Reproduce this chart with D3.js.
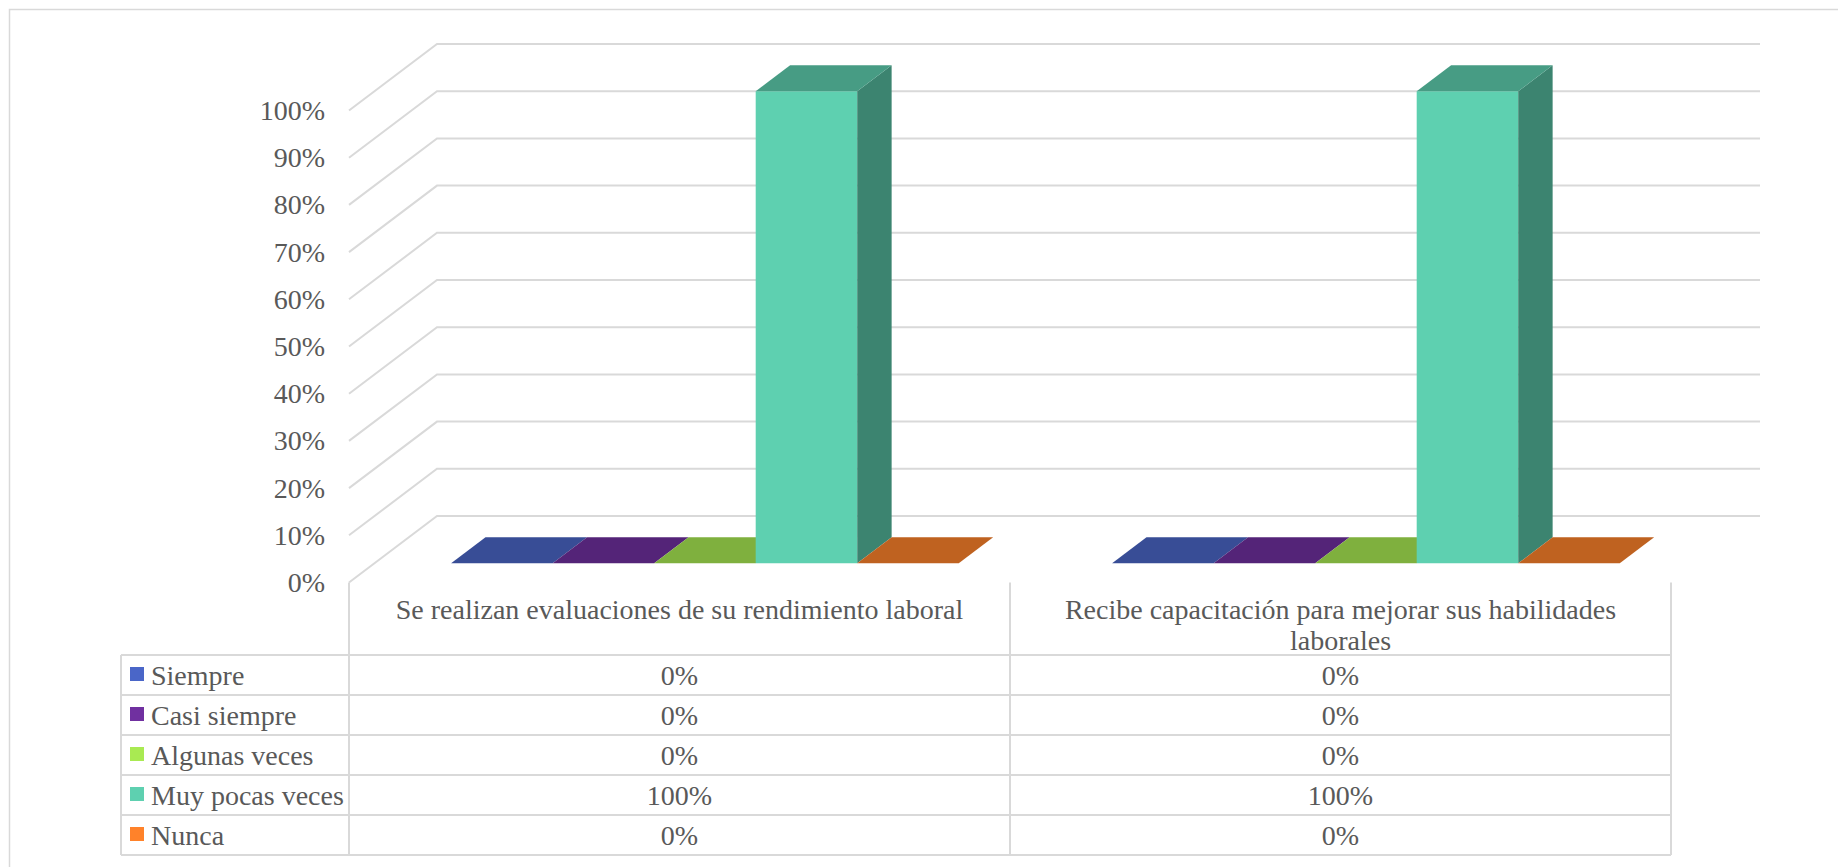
<!DOCTYPE html>
<html>
<head>
<meta charset="utf-8">
<script src="https://cdn.jsdelivr.net/npm/d3@7"></script>
<style>
  html, body { margin: 0; padding: 0; background: #fff; }
  svg { display: block; }
  text { font-family: "Liberation Serif", "Times New Roman", serif; fill: #595959; }
</style>
</head>
<body>
<script>
// Survey results: two questions, five frequency answers (share of respondents)
const categories = [
  "Se realizan evaluaciones de su rendimiento laboral",
  "Recibe capacitación para mejorar sus habilidades laborales"
];
const seriesNames = ["Siempre", "Casi siempre", "Algunas veces", "Muy pocas veces", "Nunca"];
const siempre       = [0, 0];
const casiSiempre   = [0, 0];
const algunasVeces  = [0, 0];
const muyPocasVeces = [1, 1];
const nunca         = [0, 0];
const seriesValues = [siempre, casiSiempre, algunasVeces, muyPocasVeces, nunca];
const yTickValues = [0, 0.1, 0.2, 0.3, 0.4, 0.5, 0.6, 0.7, 0.8, 0.9, 1];

const palette = ["#4A66C8", "#7030A0", "#A9EA52", "#5ED0B0", "#FF822A"];

const W = 1838, H = 867;
const FONT = 28;
const GRID = "#D9D9D9";

const svg = d3.select("body").append("svg").attr("width", W).attr("height", H);

// outer chart frame
svg.append("rect")
  .attr("x", 9.5).attr("y", 9.5).attr("width", W + 10).attr("height", H + 10)
  .attr("fill", "none").attr("stroke", GRID).attr("stroke-width", 1.5);

// front plane scales
const x = d3.scaleBand().domain(categories).range([349, 1671]);
const y = d3.scaleLinear().domain([0, 1]).range([582.5, 110.5]);
// oblique depth vector (front of floor -> back wall)
const depth = { dx: 88, dy: -66.5 };
const barFront = 0.289, barBack = 0.68;

const pct = d3.format(".0%");

// walls: diagonal on the side wall + horizontal on the back wall
const backRight = 1760;
const grid = svg.append("g").attr("fill", "none").attr("stroke", GRID).attr("stroke-width", 2);
yTickValues.forEach(v => {
  const fx = x.range()[0], fy = y(v);
  const bx = fx + depth.dx, by = fy + depth.dy;
  grid.append("path").attr("d", `M${fx},${fy}L${bx},${by}L${backRight},${by}`);
});

// y axis labels
svg.append("g").selectAll("text").data(yTickValues).join("text")
  .attr("x", 325).attr("y", d => y(d)).attr("text-anchor", "end")
  .attr("dominant-baseline", "central").attr("font-size", FONT)
  .text(d => pct(d));

// 3D columns
const inner = d3.scaleBand().domain(seriesNames.map((_, i) => i))
  .range([0, x.bandwidth() * 0.768]);
const offF = { dx: depth.dx * barFront, dy: depth.dy * barFront };
const offB = { dx: depth.dx * barBack, dy: depth.dy * barBack };
const bd = { dx: offB.dx - offF.dx, dy: offB.dy - offF.dy };

function shade(c, k) {
  const r = d3.rgb(c);
  return d3.rgb(r.r * k, r.g * k, r.b * k).formatHex();
}

const bars = svg.append("g");
categories.forEach((cat, ci) => {
  const groupW = inner.range()[1];
  const left = x(cat) + x.bandwidth() / 2 - groupW / 2 + offF.dx;
  seriesValues.forEach((vals, si) => {
    const v = vals[ci];
    const x0 = left + inner(si), x1 = x0 + inner.bandwidth();
    const yb = y(0) + offF.dy, yt = y(v) + offF.dy;
    const g = bars.append("g");
    // front face
    g.append("path").attr("fill", palette[si])
      .attr("d", `M${x0},${yb}L${x1},${yb}L${x1},${yt}L${x0},${yt}Z`);
    // right side face
    g.append("path").attr("fill", shade(palette[si], 0.635))
      .attr("d", `M${x1},${yb}L${x1 + bd.dx},${yb + bd.dy}L${x1 + bd.dx},${yt + bd.dy}L${x1},${yt}Z`);
    // top face
    g.append("path").attr("fill", shade(palette[si], 0.75))
      .attr("d", `M${x0},${yt}L${x1},${yt}L${x1 + bd.dx},${yt + bd.dy}L${x0 + bd.dx},${yt + bd.dy}Z`);
  });
});

// data table
const tLeft = 121, rowTop = 655, rowH = 40;
const tRight = x.range()[1];
const table = svg.append("g").attr("fill", "none").attr("stroke", GRID).attr("stroke-width", 2);
const tBottom = rowTop + rowH * seriesNames.length;
// header column dividers (open at top)
[x.range()[0], x(categories[1]), tRight].forEach(cx => {
  table.append("line").attr("x1", cx).attr("x2", cx).attr("y1", y(0)).attr("y2", tBottom);
});
table.append("line").attr("x1", tLeft).attr("x2", tLeft).attr("y1", rowTop).attr("y2", tBottom);
d3.range(seriesNames.length + 1).forEach(i => {
  const yy = rowTop + i * rowH;
  table.append("line").attr("x1", tLeft).attr("x2", tRight).attr("y1", yy).attr("y2", yy);
});

// category headers, wrapped inside the column
categories.forEach(cat => {
  const cx = x(cat) + x.bandwidth() / 2;
  const t = svg.append("text").attr("font-size", FONT).attr("text-anchor", "middle");
  const words = cat.split(" ");
  const lines = [];
  let line = [];
  const probe = svg.append("text").attr("font-size", FONT);
  words.forEach(w => {
    const test = line.concat(w).join(" ");
    probe.text(test);
    if (probe.node().getComputedTextLength() > x.bandwidth() - 40 && line.length) {
      lines.push(line.join(" "));
      line = [w];
    } else line.push(w);
  });
  lines.push(line.join(" "));
  probe.remove();
  lines.forEach((ln, i) => {
    t.append("tspan").attr("x", cx).attr("y", 609 + i * 31)
      .attr("dominant-baseline", "central").text(ln);
  });
});

// rows: legend key + values
seriesNames.forEach((name, si) => {
  const cy = rowTop + si * rowH + rowH / 2;
  svg.append("rect").attr("x", 130).attr("y", cy - 8).attr("width", 14).attr("height", 14)
    .attr("fill", palette[si]);
  svg.append("text").attr("x", 151).attr("y", cy).attr("dominant-baseline", "central")
    .attr("font-size", FONT).text(name);
  categories.forEach((cat, ci) => {
    svg.append("text").attr("x", x(cat) + x.bandwidth() / 2).attr("y", cy)
      .attr("dominant-baseline", "central").attr("text-anchor", "middle")
      .attr("font-size", FONT).text(pct(seriesValues[si][ci]));
  });
});
</script>
</body>
</html>
